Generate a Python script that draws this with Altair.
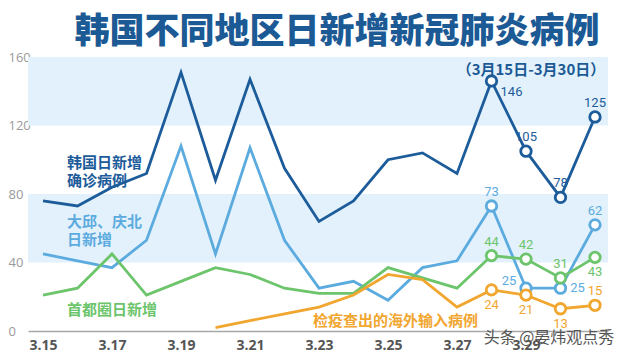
import altair as alt
import pandas as pd

# ---- data ----
days = list(range(15, 32))  # 3.15 .. 3.31
korea = [76, 73, 84, 92, 151, 88, 147, 95, 64, 76, 100, 104, 92, 146, 105, 78, 125]
daegu = [45, 41, 37, 53, 108, 45, 107, 53, 25, 29, 18, 37, 41, 73, 25, 25, 62]
capital = [21, 25, 45, 21, 29, 37, 33, 25, 22, 22, 37, 31, 25, 44, 42, 31, 43]
imported = [None, None, None, None, None, 2, 6, 10, 14, 21, 33, 30, 14, 24, 21, 13, 15]

series_names = ["韩国日新增确诊病例", "大邱、庆北日新增", "首都圈日新增", "检疫查出的海外输入病例"]
series_values = [korea, daegu, capital, imported]
colors = ["#1d5c9b", "#5cabdf", "#6cc46b", "#f1a630"]

band_lo = [40, 120]
band_hi = [80, 160]

x_ticks = [15, 17, 19, 21, 23, 25, 27, 29]
y_ticks = [0, 40, 80, 120, 160]

title_text = "韩国不同地区日新增新冠肺炎病例"
subtitle_text = "（3月15日-3月30日）"
watermark_text = "头条 @晏炜观点秀"

# label placement of the last four marked points (style only)
placements = {
    series_names[0]: ["br", "above", "above", "above"],
    series_names[1]: ["above", "ul", "right", "above"],
    series_names[2]: ["above", "above", "above", "below"],
    series_names[3]: ["below", "below", "below", "above"],
}
offsets = {"above": (0, -14), "below": (0, 15), "br": (20, 11), "ul": (-17, -7), "right": (17, 0)}

rows = []
for name, vals in zip(series_names, series_values):
    marked = [d for d, v in zip(days, vals) if v is not None][-4:]
    for d, v in zip(days, vals):
        if v is None:
            continue
        place = placements[name][marked.index(d)] if d in marked else "none"
        rows.append({"day": d, "value": v, "series": name, "place": place})
df = pd.DataFrame(rows)

W, H = 580, 274

color = alt.Color("series:N", scale=alt.Scale(domain=series_names, range=colors), legend=None)
x_enc = alt.X(
    "day:Q",
    scale=alt.Scale(domain=[14.565, 31.377], nice=False, zero=False),
    axis=alt.Axis(
        values=x_ticks, labelExpr="'3.' + datum.value", title=None, grid=False,
        ticks=False, tickSize=0, domainColor="#a8a8a8", domainWidth=1.5,
        labelFont="Open Sans", labelFontSize=14, labelFontWeight="bold",
        labelColor="#555555", labelPadding=7,
    ),
)
y_axis = alt.Axis(
    values=y_ticks, title=None, grid=False, ticks=False, tickSize=0, domain=False,
    labelFont="Open Sans", labelFontSize=13, labelColor="#9a9a9a",
    labelAlign="left", labelPadding=20, labelBaseline="middle",
)
y_scale = alt.Scale(domain=[0, 160], nice=False)

bands = alt.Chart(pd.DataFrame({"lo": band_lo, "hi": band_hi})).mark_rect(color="#e2f1fb").encode(
    x=alt.value(0), x2=alt.value(W),
    y=alt.Y("lo:Q", scale=y_scale, axis=y_axis), y2="hi:Q",
)

base = alt.Chart(df).encode(x=x_enc, y=alt.Y("value:Q", scale=y_scale, axis=y_axis), color=color)

lines = base.mark_line(strokeWidth=2.8, strokeJoin="miter")
marked_df = base.transform_filter("datum.place != 'none'")
points = marked_df.mark_point(shape="circle", filled=False, fill="white", fillOpacity=1,
                              strokeWidth=2.8, size=110, opacity=1)

label_layers = []
for place, (dx, dy) in offsets.items():
    label_layers.append(
        base.transform_filter(f"datum.place == '{place}'").mark_text(
            dx=dx, dy=dy, font="Roboto", fontSize=13, baseline="middle", align="center"
        ).encode(text="value:Q")
    )

def txt(text, x, y, col, size, weight="bold", align="left", baseline="middle", font="Noto Sans CJK SC", lh=None):
    kw = dict(align=align, baseline=baseline, font=font, fontSize=size, fontWeight=weight, color=col)
    if lh:
        kw["lineBreak"] = "\n"
        kw["lineHeight"] = lh
    return alt.Chart(pd.DataFrame({"t": [text]})).mark_text(**kw).encode(
        x=alt.value(x), y=alt.value(y), text="t:N"
    )

texts = [
    txt(title_text, 309, -25, "#1b5a94", 35, weight=900, align="center"),
    txt(subtitle_text, 503, 13, "#1b5a94", 15, align="center"),
    txt("韩国日新增\n确诊病例", 39, 99, colors[0], 15, baseline="top", lh=18),
    txt("大邱、庆北\n日新增", 39, 158, colors[1], 15, baseline="top", lh=18),
    txt("首都圈日新增", 39, 253, colors[2], 15),
    txt("检疫查出的海外输入病例", 285, 264, colors[3], 15),
    txt(watermark_text, 521, 281, "#555555", 16, weight="normal", align="center"),
]

chart = alt.layer(bands, lines, points, *label_layers, *texts).properties(
    width=W, height=H,
    padding={"left": 20, "top": 49, "right": 7, "bottom": 32},
    autosize=alt.AutoSizeParams(type="none"),
).configure_view(strokeWidth=0)

chart.save("out.html", embed_options={"renderer": "svg", "actions": False})
